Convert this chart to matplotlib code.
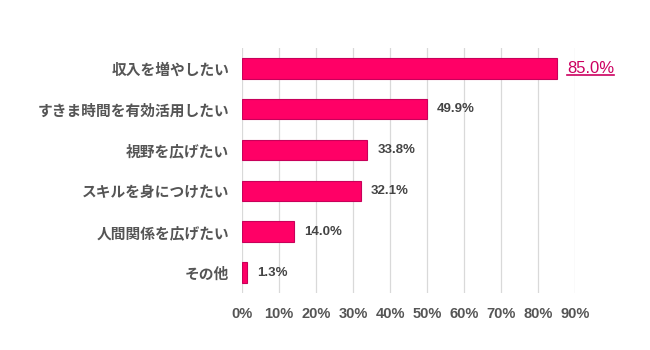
import matplotlib
matplotlib.use("Agg")
import matplotlib.pyplot as plt
from matplotlib.lines import Line2D

# =========================
# Data
# =========================
categories = ["収入を増やしたい", "すきま時間を有効活用したい", "視野を広げたい",
              "スキルを身につけたい", "人間関係を広げたい", "その他"]
values = [85.0, 49.9, 33.8, 32.1, 14.0, 1.3]
xticks = [0, 10, 20, 30, 40, 50, 60, 70, 80, 90]

plt.rcParams['font.family'] = ['Noto Sans CJK JP', 'DejaVu Sans']

bar_color = '#ff0066'
edge_color = '#c8005a'
text_grey = '#555555'

fig = plt.figure(figsize=(6.5, 3.5), dpi=100)
ax = fig.add_axes([0.372, 0.163, 0.513, 0.700])

ypos = list(range(len(categories)))
ax.barh(ypos, values, height=0.5, color=bar_color, edgecolor=edge_color,
        linewidth=0.8, zorder=3)

ax.set_ylim(len(categories) - 0.5, -0.5)
ax.set_xlim(0, 90)
ax.set_xticks(xticks)
ax.set_xticklabels([f"{t}%" for t in xticks], fontsize=10.5, color=text_grey,
                   fontweight='bold', family=['Liberation Sans', 'DejaVu Sans'])
ax.set_yticks(ypos)
ax.set_yticklabels(categories, fontsize=10.6, color=text_grey, fontweight='bold')
ax.tick_params(length=0, pad=9)
ax.tick_params(axis='x', pad=10)

ax.grid(axis='x', color='#d9d9d9', linewidth=0.9, zorder=0)
for s in ax.spines.values():
    s.set_visible(False)

# --- value labels ---
labels = []
for i, v in enumerate(values):
    if i == 0:
        t = ax.text(v + 2.8, i, f"{v:.1f}%", va='center', ha='left',
                    fontsize=12, color='#cc0060',
                    family=['Liberation Sans', 'DejaVu Sans'])
    else:
        t = ax.text(v + 2.8, i, f"{v:.1f}%", va='center', ha='left',
                    fontsize=9.5, color='#444444', fontweight='bold',
                    family=['Liberation Sans', 'DejaVu Sans'])
    labels.append(t)

# underline on the top label
fig.canvas.draw()
bb = labels[0].get_window_extent().transformed(fig.transFigure.inverted())
fig.add_artist(Line2D([bb.x0, bb.x1], [bb.y0 + 0.002, bb.y0 + 0.002],
                      transform=fig.transFigure, color='#cc0060', linewidth=1.2))

fig.savefig("out.png", dpi=100, facecolor='white')
